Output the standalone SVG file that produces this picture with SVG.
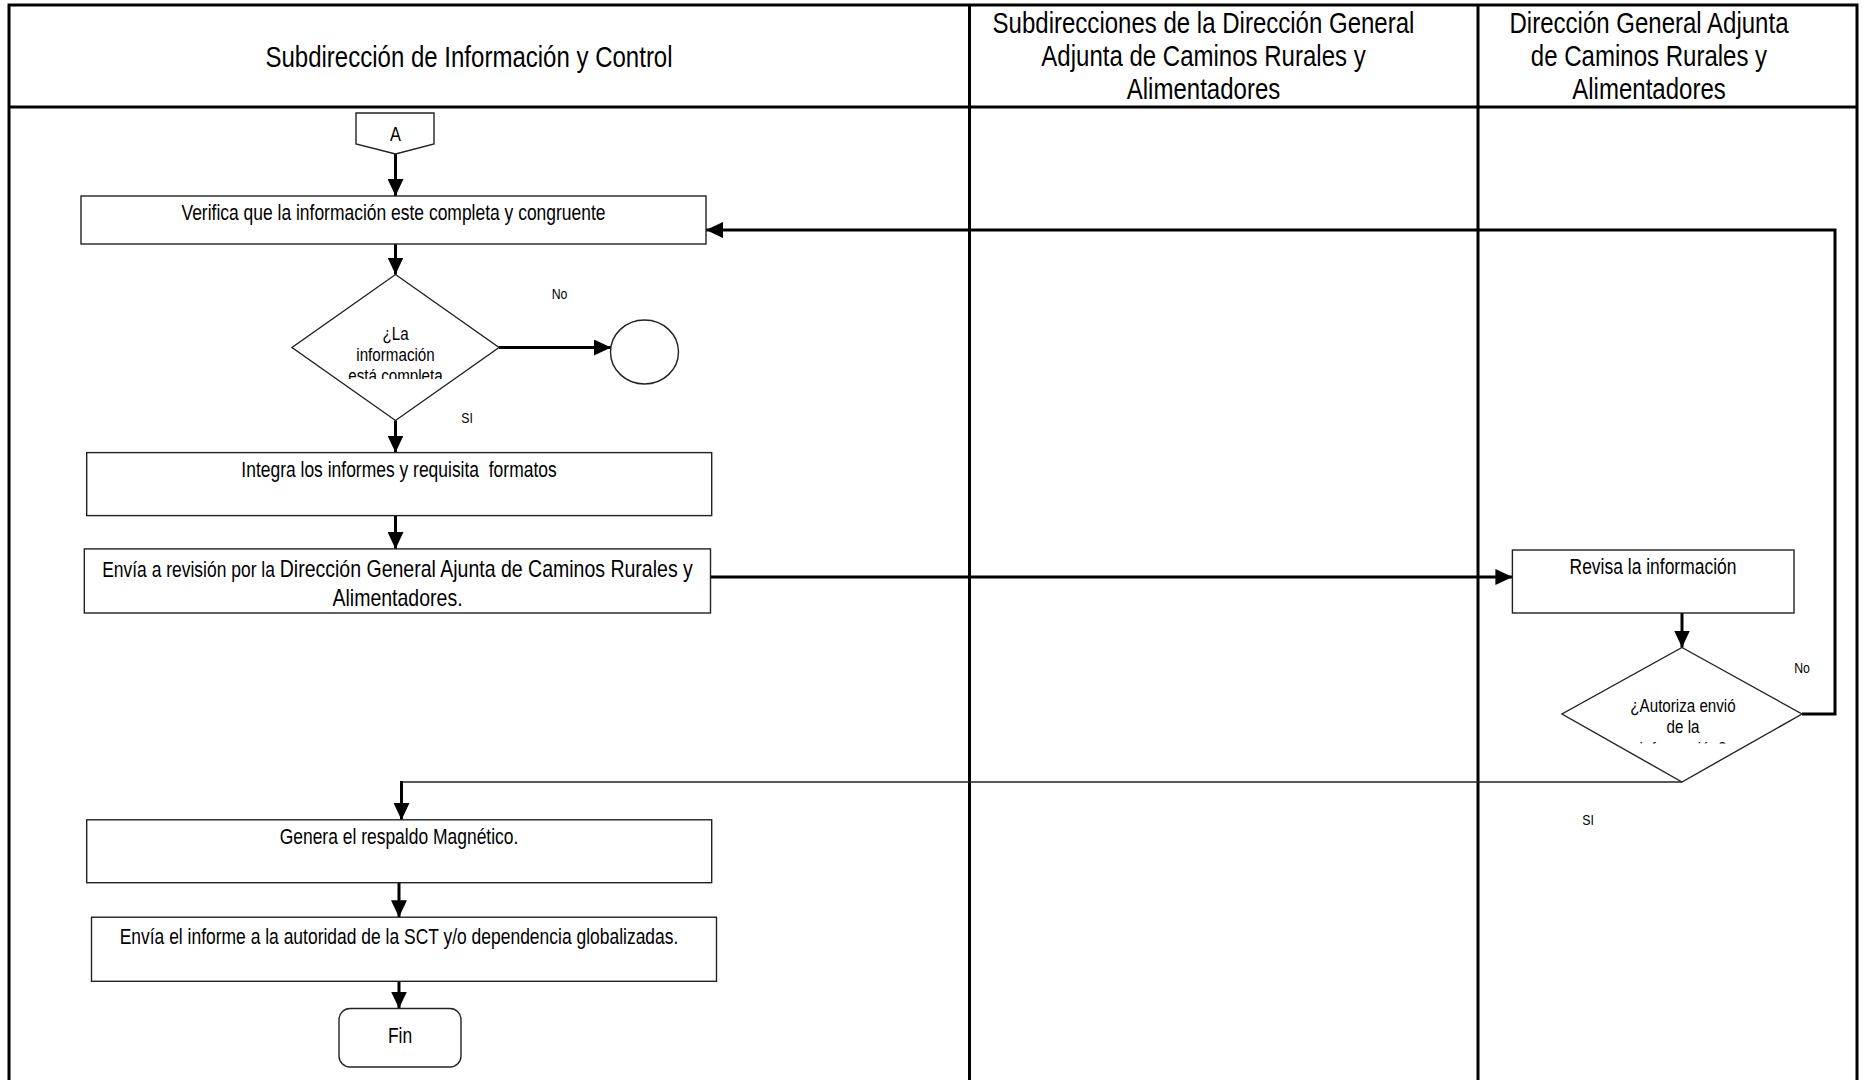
<svg xmlns="http://www.w3.org/2000/svg" width="1863" height="1080" viewBox="0 0 1863 1080">
<style>
.lane{fill:none;stroke:#000;stroke-width:3}
.box{fill:#fff;stroke:#222;stroke-width:1.4}
.t{font-family:"Liberation Sans",Arial,sans-serif;fill:#000;text-anchor:middle}
.h{font-size:29.3px}
.b{font-size:21.3px}
.d{font-size:18.5px}
.a{font-size:20px}
.l{font-size:15px}
.big{font-size:23.8px}
.arr{fill:none;stroke:#000;stroke-width:3}
.thin{fill:none;stroke:#222;stroke-width:1.4}
</style>
<defs>
<marker id="ah" markerUnits="userSpaceOnUse" markerWidth="17" markerHeight="16" refX="17" refY="8" orient="auto">
<path d="M0,0 L17,8 L0,16 z" fill="#000"/>
</marker>
<clipPath id="c1"><rect x="280" y="300" width="230" height="79"/></clipPath>
<clipPath id="c2"><rect x="1560" y="680" width="250" height="63.5"/></clipPath>
</defs>
<rect width="1863" height="1080" fill="#fff"/>
<g id="lanes">
<path class="lane" d="M9,1082 V5 H1857 V1082"/>
<line class="lane" x1="9" y1="107" x2="1857" y2="107"/>
<line class="lane" x1="969.5" y1="5" x2="969.5" y2="1082"/>
<line class="lane" x1="1478" y1="5" x2="1478" y2="1082"/>
<text class="t h" transform="translate(469,67) scale(0.82,1)">Subdirección de Información y Control</text>
<text class="t h" transform="translate(1203.5,32.6) scale(0.82,1)">Subdirecciones de la Dirección General</text>
<text class="t h" transform="translate(1203.5,66) scale(0.82,1)">Adjunta de Caminos Rurales y</text>
<text class="t h" transform="translate(1203.5,99) scale(0.82,1)">Alimentadores</text>
<text class="t h" transform="translate(1649,32.6) scale(0.82,1)">Dirección General Adjunta</text>
<text class="t h" transform="translate(1649,66) scale(0.82,1)">de Caminos Rurales y</text>
<text class="t h" transform="translate(1649,99) scale(0.82,1)">Alimentadores</text>
</g>
<g id="connectors">
<line class="arr" x1="395.5" y1="154" x2="395.5" y2="196" marker-end="url(#ah)"/>
<line class="arr" x1="395.5" y1="244" x2="395.5" y2="274.5" marker-end="url(#ah)"/>
<line class="arr" x1="499" y1="347.5" x2="611" y2="347.5" marker-end="url(#ah)"/>
<line class="arr" x1="395.5" y1="420.5" x2="395.5" y2="452.6" marker-end="url(#ah)"/>
<line class="arr" x1="395.5" y1="515.6" x2="395.5" y2="549" marker-end="url(#ah)"/>
<line class="arr" x1="710.5" y1="577" x2="1512.4" y2="577" marker-end="url(#ah)"/>
<line class="arr" x1="1682" y1="613" x2="1682" y2="647.5" marker-end="url(#ah)"/>
<polyline class="arr" points="1802,714 1835,714 1835,230 706,230" marker-end="url(#ah)"/>
<line class="thin" x1="1682" y1="782" x2="401.5" y2="782"/>
<line class="arr" x1="401.5" y1="781" x2="401.5" y2="820" marker-end="url(#ah)"/>
<line class="arr" x1="399" y1="882.7" x2="399" y2="917.2" marker-end="url(#ah)"/>
<line class="arr" x1="399" y1="981.3" x2="399" y2="1008.5" marker-end="url(#ah)"/>
<text class="t l" transform="translate(559.5,299) scale(0.82,1)">No</text>
<text class="t l" transform="translate(467,422.5) scale(0.82,1)">SI</text>
<text class="t l" transform="translate(1802,673) scale(0.82,1)">No</text>
<text class="t l" transform="translate(1588,825) scale(0.82,1)">SI</text>
</g>
<g id="nodeA">
<polygon class="box" points="356,113 434,113 434,144 395.5,154 356,144"/>
<text class="t a" transform="translate(395.5,141) scale(0.82,1)">A</text>
</g>
<g id="verifica">
<rect class="box" x="81" y="196" width="625" height="48"/>
<text class="t b" transform="translate(393.5,220) scale(0.82,1)">Verifica que la información este completa y congruente</text>
</g>
<g id="decision1">
<polygon class="box" points="395.5,274.5 499,347.5 395.5,420.5 292,347.5"/>
<g clip-path="url(#c1)">
<text class="t d" transform="translate(395.5,339.5) scale(0.82,1)">¿La</text>
<text class="t d" transform="translate(395.5,360.5) scale(0.82,1)">información</text>
<text class="t d" transform="translate(395.5,382) scale(0.82,1)">está completa</text>
</g>
</g>
<g id="circle1">
<ellipse class="box" cx="644.5" cy="352" rx="34" ry="32"/>
</g>
<g id="integra">
<rect class="box" x="86.7" y="452.6" width="625" height="63"/>
<text class="t b" xml:space="preserve" transform="translate(399,477) scale(0.82,1)">Integra los informes y requisita  formatos</text>
</g>
<g id="envia">
<rect class="box" x="84.3" y="548.9" width="626.2" height="64.1"/>
<text class="t b" transform="translate(397.5,577) scale(0.82,1)">Envía a revisión por la <tspan class="big">Dirección General Ajunta de Caminos Rurales y</tspan></text>
<text class="t big" transform="translate(397.5,605.5) scale(0.82,1)">Alimentadores.</text>
</g>
<g id="revisa">
<rect class="box" x="1512.4" y="550" width="281.6" height="63"/>
<text class="t b" transform="translate(1653,574) scale(0.82,1)">Revisa la información</text>
</g>
<g id="decision2">
<polygon class="box" points="1682,647.5 1802,714 1682,782 1562,714"/>
<g clip-path="url(#c2)">
<text class="t d" transform="translate(1683,711.5) scale(0.82,1)">¿Autoriza envió</text>
<text class="t d" transform="translate(1683,732.5) scale(0.82,1)">de la</text>
<text class="t d" transform="translate(1683,755) scale(0.82,1)">información?</text>
</g>
</g>
<g id="genera">
<rect class="box" x="86.7" y="819.8" width="625" height="62.9"/>
<text class="t b" transform="translate(399,844) scale(0.82,1)">Genera el respaldo Magnético.</text>
</g>
<g id="enviaInforme">
<rect class="box" x="91.5" y="917.2" width="625" height="64.1"/>
<text class="t b" transform="translate(399,944) scale(0.82,1)">Envía el informe a la autoridad de la SCT y/o dependencia globalizadas.</text>
</g>
<g id="fin">
<rect class="box" x="339" y="1008.5" width="122" height="58.5" rx="11"/>
<text class="t b" transform="translate(400,1042.5) scale(0.82,1)">Fin</text>
</g>
</svg>
